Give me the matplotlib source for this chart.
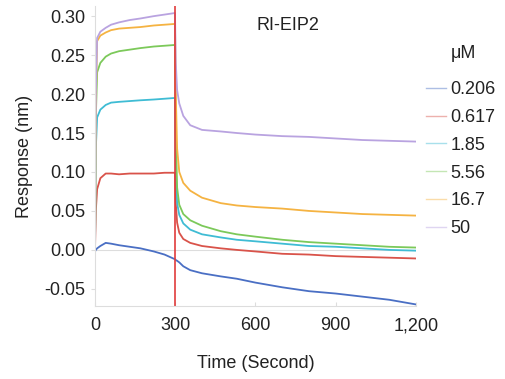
import matplotlib.pyplot as plt

plt.rcParams['font.family'] = ['Liberation Sans', 'DejaVu Sans']

# time points (s)
time = [0, 3, 8, 20, 40, 60, 90, 130, 170, 220, 260, 299,
        302, 307, 315, 330, 356, 400, 470, 530, 600, 700, 800, 900, 1000, 1100, 1200]

conc_labels = ['0.206', '0.617', '1.85', '5.56', '16.7', '50']

resp_0206 = [-0.002, 0.000, 0.002, 0.005, 0.009, 0.008, 0.006, 0.004, 0.002, -0.002, -0.006, -0.012,
             -0.013, -0.014, -0.016, -0.021, -0.026, -0.030, -0.034, -0.037, -0.042, -0.048, -0.053, -0.056, -0.060, -0.064, -0.070]
resp_0617 = [0.000, 0.050, 0.078, 0.092, 0.098, 0.098, 0.097, 0.098, 0.098, 0.098, 0.099, 0.099,
             0.060, 0.035, 0.022, 0.014, 0.009, 0.005, 0.002, 0.000, -0.002, -0.005, -0.006, -0.008, -0.009, -0.010, -0.011]
resp_185 = [0.000, 0.130, 0.170, 0.180, 0.186, 0.189, 0.190, 0.191, 0.192, 0.193, 0.194, 0.195,
            0.110, 0.060, 0.045, 0.034, 0.026, 0.020, 0.016, 0.013, 0.011, 0.008, 0.005, 0.004, 0.002, 0.000, -0.001]
resp_556 = [0.000, 0.170, 0.228, 0.240, 0.248, 0.252, 0.255, 0.257, 0.259, 0.261, 0.262, 0.263,
            0.150, 0.080, 0.058, 0.046, 0.038, 0.031, 0.024, 0.020, 0.017, 0.013, 0.010, 0.008, 0.006, 0.004, 0.003]
resp_167 = [0.000, 0.190, 0.268, 0.275, 0.279, 0.282, 0.284, 0.285, 0.286, 0.288, 0.289, 0.290,
            0.200, 0.130, 0.100, 0.086, 0.076, 0.067, 0.060, 0.057, 0.055, 0.053, 0.050, 0.048, 0.046, 0.045, 0.044]
resp_50 = [0.000, 0.200, 0.272, 0.280, 0.285, 0.289, 0.292, 0.295, 0.297, 0.300, 0.302, 0.304,
           0.240, 0.205, 0.188, 0.172, 0.160, 0.154, 0.152, 0.150, 0.148, 0.146, 0.145, 0.143, 0.141, 0.140, 0.139]

series = [resp_0206, resp_0617, resp_185, resp_556, resp_167, resp_50]
colors = ['#4a6fc4', '#d9534a', '#3fbcd4', '#7cc95a', '#f5b342', '#b9a3e0']

fig = plt.figure(figsize=(5.06, 3.79), dpi=100)
ax = fig.add_axes([95 / 506, 1 - 306 / 379, 321 / 506, 300 / 379])

for vals, lab, c in zip(series, conc_labels, colors):
    ax.plot(time, vals, color=c, lw=1.3, label=lab)

ax.axhline(0, color='#dddddd', lw=0.8, zorder=0)
ax.axvline(300, color='#e03c3c', lw=1.2)

ax.set_xlim(0, 1200)
ax.set_ylim(-0.072, 0.313)
ax.set_xticks([0, 300, 600, 900, 1200])
ax.set_xticklabels(['0', '300', '600', '900', '1,200'])
ax.set_yticks([-0.05, 0.00, 0.05, 0.10, 0.15, 0.20, 0.25, 0.30])
ax.set_yticklabels(['-0.05', '0.00', '0.05', '0.10', '0.15', '0.20', '0.25', '0.30'])

for s in ['top', 'right']:
    ax.spines[s].set_visible(False)
for s in ['left', 'bottom']:
    ax.spines[s].set_color('#dddddd')
    ax.spines[s].set_linewidth(0.8)
ax.tick_params(axis='both', colors='#dddddd', labelcolor='#222222', labelsize=13, length=3)
ax.tick_params(axis='x', direction='in', pad=8)
ax.tick_params(axis='y', pad=4)

ax.set_xlabel('Time (Second)', fontsize=13, color='#222222', labelpad=15)
ax.set_ylabel('Response (nm)', fontsize=13, color='#222222', labelpad=8)

ax.text(0.60, 0.935, 'RI-EIP2', transform=ax.transAxes, ha='center', va='center',
        fontsize=13, color='#222222')

fig.text(451 / 506, 1 - 53 / 379, 'μM', ha='left', va='center', fontsize=13, color='#222222')
leg = ax.legend(loc='upper left', bbox_to_anchor=(417 / 506, 1 - 72 / 379),
                bbox_transform=fig.transFigure, frameon=False, fontsize=13,
                handlelength=1.1, handletextpad=0.25, labelspacing=0.6, borderpad=0)
for h in leg.get_lines():
    h.set_alpha(0.45)
    h.set_linewidth(1.0)
for t in leg.get_texts():
    t.set_color('#222222')

fig.savefig('out.png', dpi=100)
